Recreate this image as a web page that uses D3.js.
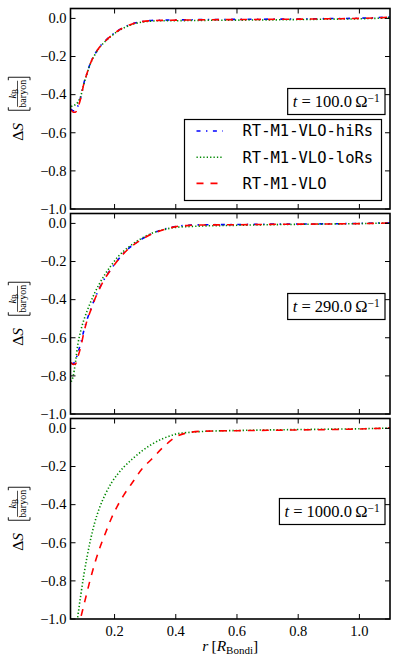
<!DOCTYPE html>
<html>
<head>
<meta charset="utf-8">
<script src="https://cdn.jsdelivr.net/npm/d3@7"></script>
</head>
<body style="margin:0;background:#fff">
<svg id="chart" width="399" height="666"></svg>
<script>
// radius sample points [R_Bondi]
var r = [0.058, 0.065, 0.072, 0.08, 0.09, 0.1, 0.11, 0.12, 0.135, 0.15, 0.17, 0.19, 0.21,
  0.23, 0.26, 0.29, 0.32, 0.36, 0.4, 0.45, 0.5, 0.6, 0.7, 0.8, 0.9, 1.0, 1.1];

// t = 100
var hiRs100 = [-0.475, -0.485, -0.482, -0.46, -0.41, -0.338, -0.287, -0.239, -0.19, -0.152, -0.117, -0.089, -0.065,
  -0.047, -0.027, -0.016, -0.011, -0.009, -0.008, -0.007, -0.006, -0.005, -0.004, -0.003, -0.001, 0.001, 0.007];
var loRs100 = [-0.462, -0.458, -0.452, -0.44, -0.405, -0.342, -0.29, -0.242, -0.192, -0.155, -0.12, -0.092, -0.068,
  -0.05, -0.03, -0.019, -0.014, -0.012, -0.012, -0.011, -0.01, -0.009, -0.008, -0.006, -0.004, -0.002, 0.003];
var vlo100 = [-0.48, -0.492, -0.492, -0.468, -0.415, -0.34, -0.288, -0.24, -0.19, -0.153, -0.118, -0.09, -0.066,
  -0.048, -0.028, -0.017, -0.012, -0.01, -0.009, -0.008, -0.007, -0.006, -0.005, -0.004, -0.002, 0.0, 0.006];

// t = 290
var hiRs290 = [-0.735, -0.735, -0.72, -0.68, -0.625, -0.56, -0.505, -0.46, -0.396, -0.342, -0.283, -0.236, -0.193,
  -0.155, -0.113, -0.081, -0.055, -0.031, -0.016, -0.009, -0.007, -0.006, -0.004, -0.003, -0.002, 0.0, 0.004];
var loRs290 = [-0.83, -0.8, -0.73, -0.635, -0.56, -0.505, -0.46, -0.42, -0.365, -0.318, -0.264, -0.218, -0.177,
  -0.145, -0.107, -0.077, -0.053, -0.033, -0.021, -0.016, -0.013, -0.01, -0.007, -0.005, -0.003, -0.001, 0.003];
var vlo290 = [-0.73, -0.74, -0.738, -0.7, -0.645, -0.57, -0.51, -0.465, -0.4, -0.345, -0.285, -0.238, -0.195,
  -0.157, -0.115, -0.083, -0.057, -0.033, -0.017, -0.01, -0.008, -0.007, -0.005, -0.004, -0.003, -0.001, 0.002];

// t = 1000 (no hiRs run)
var loRs1000 = [null, null, -1.08, -0.985, -0.87, -0.765, -0.675, -0.595, -0.495, -0.42, -0.345, -0.285, -0.24,
  -0.203, -0.158, -0.118, -0.085, -0.052, -0.03, -0.02, -0.015, -0.011, -0.008, -0.006, -0.004, -0.002, 0.002];
var vlo1000 = [null, null, null, -1.055, -0.99, -0.925, -0.86, -0.796, -0.71, -0.635, -0.55, -0.47, -0.405,
  -0.35, -0.28, -0.212, -0.163, -0.097, -0.045, -0.02, -0.014, -0.012, -0.01, -0.008, -0.006, -0.003, 0.002];

var times = ['100.0', '290.0', '1000.0'];
var seriesNames = ['RT-M1-VLO-hiRs', 'RT-M1-VLO-loRs', 'RT-M1-VLO'];
var xTicks = [0.2, 0.4, 0.6, 0.8, 1.0];
var yTicks = [-1.0, -0.8, -0.6, -0.4, -0.2, 0.0];

var panels = [
  [hiRs100, loRs100, vlo100],
  [hiRs290, loRs290, vlo290],
  [null, loRs1000, vlo1000]
];

// line styles, same order as seriesNames
var styles = [
  { color: '#0000ff', dash: '4,5.5,1.4,5.5' },
  { color: '#008800', dash: '1.3,2.1' },
  { color: '#ff0000', dash: '7,7' }
];

var SERIF = 'Liberation Serif';
var MONO = 'DejaVu Sans Mono';

var svg = d3.select('#chart');
var left = 70.5, right = 390, panelH = 200.5, gap = 4.5, top0 = 8.5;

var x = d3.scaleLinear().domain([0.056, 1.1]).range([left, right]);

function serifText(sel, size) {
  return sel.append('text').attr('font-family', SERIF).attr('font-size', size).attr('fill', '#000');
}

panels.forEach(function(series, p) {
  var top = top0 + p * (panelH + gap);
  var y = d3.scaleLinear().domain([-1.0, 0.052]).range([top + panelH, top]);
  var g = svg.append('g');

  svg.append('clipPath').attr('id', 'clip' + p)
    .append('rect')
    .attr('x', left).attr('y', top)
    .attr('width', right - left).attr('height', panelH);

  // curves
  var line = d3.line()
    .defined(function(d) { return d[1] !== null; })
    .x(function(d) { return x(d[0]); })
    .y(function(d) { return y(d[1]); })
    .curve(d3.curveMonotoneX);

  series.forEach(function(vals, i) {
    if (!vals) return;
    g.append('path')
      .datum(r.map(function(rv, k) { return [rv, vals[k]]; }))
      .attr('clip-path', 'url(#clip' + p + ')')
      .attr('d', line)
      .attr('fill', 'none')
      .attr('stroke', styles[i].color)
      .attr('stroke-width', 1.6)
      .attr('stroke-dasharray', styles[i].dash);
  });

  // inside ticks on all four sides
  yTicks.forEach(function(t) {
    g.append('line').attr('x1', left).attr('x2', left + 5)
      .attr('y1', y(t)).attr('y2', y(t)).attr('stroke', '#000');
    g.append('line').attr('x1', right - 5).attr('x2', right)
      .attr('y1', y(t)).attr('y2', y(t)).attr('stroke', '#000');
    serifText(g, 14.5)
      .attr('x', left - 4).attr('y', y(t))
      .attr('text-anchor', 'end').attr('dy', '0.33em')
      .text(d3.format('.1f')(t).replace('-', '\u2212'));
  });
  xTicks.forEach(function(t) {
    g.append('line').attr('x1', x(t)).attr('x2', x(t))
      .attr('y1', top).attr('y2', top + 5).attr('stroke', '#000');
    g.append('line').attr('x1', x(t)).attr('x2', x(t))
      .attr('y1', top + panelH - 5).attr('y2', top + panelH).attr('stroke', '#000');
  });

  // frame
  g.append('rect')
    .attr('x', left).attr('y', top)
    .attr('width', right - left).attr('height', panelH)
    .attr('fill', 'none').attr('stroke', '#000').attr('stroke-width', 1.6);

  // time box
  var box = g.append('g');
  var tt = serifText(box, 16.5).attr('y', top + 93).attr('dy', '0.35em');
  tt.append('tspan').attr('font-style', 'italic').text('t');
  tt.append('tspan').text(' = ' + times[p] + '\u2009\u03A9');
  tt.append('tspan').attr('dy', '-0.45em').attr('font-size', 11.5).text('\u22121');
  var bb = tt.node().getBBox();
  var bx = 385 - 5 - bb.width;
  tt.attr('x', bx);
  box.insert('rect', 'text')
    .attr('x', bx - 5).attr('y', top + 80)
    .attr('width', bb.width + 10).attr('height', 26)
    .attr('fill', '#fff').attr('stroke', '#000').attr('stroke-width', 1.2);

  // y label, rotated
  var lab = g.append('g')
    .attr('transform', 'translate(22.5,' + (top + panelH / 2) + ') rotate(-90)');
  var ds = serifText(lab, 15.5).attr('x', -32).attr('y', 0);
  ds.append('tspan').text('\u0394');
  ds.append('tspan').attr('font-style', 'italic').text('S');
  lab.append('path')
    .attr('d', 'M1.5,-14.2H-1.5V7.5H1.5M28.5,-14.2H31.5V7.5H28.5')
    .attr('fill', 'none').attr('stroke', '#000').attr('stroke-width', 0.9);
  lab.append('line').attr('x1', 2).attr('x2', 28).attr('y1', -5).attr('y2', -5)
    .attr('stroke', '#000').attr('stroke-width', 0.7);
  var kb = serifText(lab, 10.5).attr('x', 15).attr('y', -7)
    .attr('text-anchor', 'middle');
  kb.append('tspan').attr('font-style', 'italic').text('k');
  kb.append('tspan').attr('dy', 2).attr('font-size', 7.5).text('B');
  serifText(lab, 10).attr('x', 15).attr('y', 3.5)
    .attr('text-anchor', 'middle').text('baryon');
});

// x tick labels under the bottom panel
xTicks.forEach(function(t) {
  serifText(svg, 14.5)
    .attr('x', x(t)).attr('y', 636)
    .attr('text-anchor', 'middle')
    .text(d3.format('.1f')(t));
});

// x label
var xl = serifText(svg, 15.5).attr('x', (left + right) / 2).attr('y', 651)
  .attr('text-anchor', 'middle');
xl.append('tspan').attr('font-style', 'italic').text('r');
xl.append('tspan').text('\u2009[');
xl.append('tspan').attr('font-style', 'italic').text('R');
xl.append('tspan').attr('dy', 3).attr('font-size', 11).text('Bondi');
xl.append('tspan').attr('dy', -3).text(']');

// legend in the top panel
var leg = svg.append('g');
leg.append('rect')
  .attr('x', 184.5).attr('y', 119.5).attr('width', 197).attr('height', 81)
  .attr('fill', '#fff').attr('stroke', '#000').attr('stroke-width', 1.2);
seriesNames.forEach(function(name, i) {
  var ly = 131 + i * 26.2;
  leg.append('line')
    .attr('x1', 196.5).attr('x2', 223).attr('y1', ly).attr('y2', ly)
    .attr('stroke', styles[i].color).attr('stroke-width', 1.6)
    .attr('stroke-dasharray', styles[i].dash);
  leg.append('text')
    .attr('font-family', MONO).attr('font-size', 15.5).attr('fill', '#000')
    .attr('x', 242.5).attr('y', ly).attr('dy', '0.35em')
    .text(name);
});
</script>
</body>
</html>
